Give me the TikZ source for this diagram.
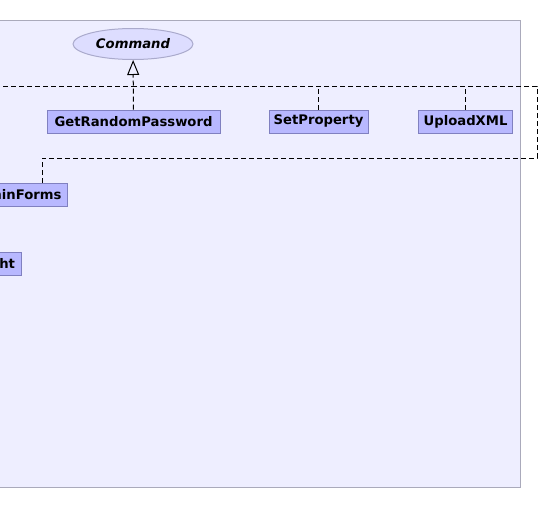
\documentclass[tikz,border=0pt]{standalone}
\usepackage{fontspec}
\newfontfamily\dvs{DejaVu Sans}
\usetikzlibrary{shapes.geometric,arrows.meta}
\definecolor{clfill}{HTML}{EEEEFF}
\definecolor{cldraw}{HTML}{AAAABB}
\definecolor{boxfill}{HTML}{B8B8FF}
\definecolor{boxdraw}{HTML}{8080C0}
\definecolor{ifill}{HTML}{DDDDFF}
\definecolor{idraw}{HTML}{AAAACC}
\tikzset{
  cls/.style={draw=boxdraw,fill=boxfill,line width=1pt,inner sep=0pt,minimum height=23pt,
    font=\dvs\bfseries\fontsize{13.2}{15}\selectfont},
  iface/.style={ellipse,draw=idraw,fill=ifill,line width=1pt,inner sep=0pt,
    minimum width=120pt,minimum height=31pt,font=\dvs\bfseries\itshape\fontsize{13.2}{15}\selectfont},
  dep/.style={line width=1pt,dash pattern=on 5pt off 3pt},
  impl/.style={dep,-{Triangle[open,length=15pt,width=12pt]}}
}

\begin{document}
\begin{tikzpicture}[x=1pt,y=-1pt]
\useasboundingbox(0,0)rectangle(540,525);
\clip(0,0)rectangle(540,525);
\draw[cldraw,fill=clfill,line width=1pt](-10,20)rectangle(520,487);
\node[iface](cmd)at(133,44){Command};
\node[cls,minimum width=173pt](grp)at(133.5,121.5){GetRandomPassword};
\node[cls,minimum width=99pt](sp)at(318.5,121.5){SetProperty};
\node[cls,minimum width=94pt](ux)at(465.5,121.5){UploadXML};
\node[cls,anchor=east,text width=100pt,align=right,inner xsep=6pt](mf)at(68,195){minForms};
\node[cls,anchor=east,text width=40pt,align=right,inner xsep=6pt](rt)at(21.5,263.5){ht};
\coordinate(j)at(133,86);
\coordinate(lft)at(-5,86);
\coordinate(k1)at(537,158);
\coordinate(k2)at(537,86);
% implementations of Command, joined on one dashed line
\draw[impl](grp)--(cmd);
\draw[dep](lft)--(j);
\draw[dep](sp.north)--(sp.north|-j);
\draw[dep](ux.north)--(ux.north|-j);
\draw[dep]([xshift=-26pt]mf.north east)|-(k1)--(k2)--(j);
\end{tikzpicture}
\end{document}
